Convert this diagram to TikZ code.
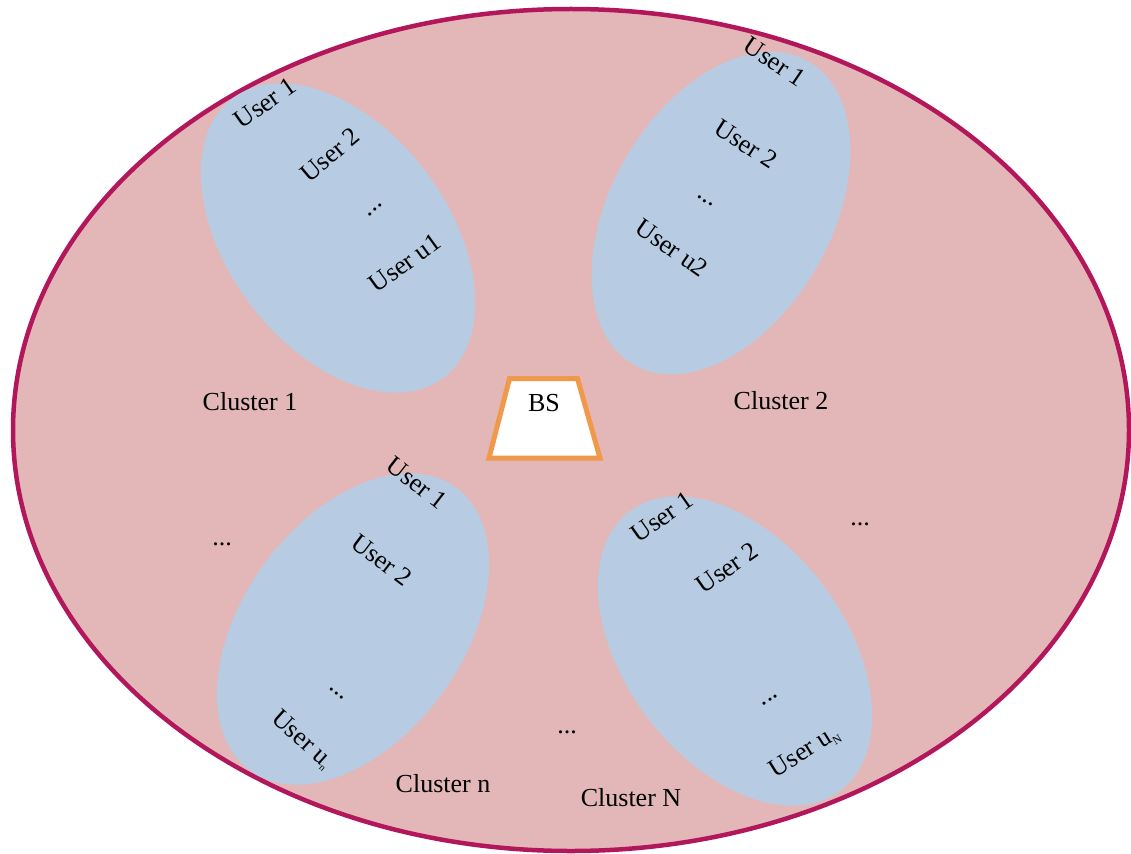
\documentclass[tikz,border=0pt]{standalone}
\usepackage{fontspec}
\setmainfont{Liberation Serif}
\usetikzlibrary{shapes.geometric}
\definecolor{cellpink}{HTML}{E3B7B7}
\definecolor{cellborder}{HTML}{B3175B}
\definecolor{clusterblue}{HTML}{B7CCE2}
\definecolor{bsorange}{HTML}{F0994A}
\tikzset{
  cell/.style={ellipse, draw=cellborder, fill=cellpink, line width=4.5pt, inner sep=0pt,
    minimum width=1116pt, minimum height=842pt},
  cluster/.style={ellipse, fill=clusterblue, inner sep=0pt, minimum width=350pt, minimum height=220pt},
  lbl/.style={font=\fontsize{26}{29}\selectfont, inner sep=1pt},
}
\begin{document}
\begin{tikzpicture}[x=1pt,y=-1pt]
\useasboundingbox (0,0) rectangle (1131,853);
\node[cell] (cell) at (571,430) {};
\node[cluster, rotate=-53] (c1) at (338,238) {};
\node[cluster, rotate=60] (c2) at (721,213) {};
\node[cluster, rotate=54] (cn) at (353,629) {};
\node[cluster, rotate=-53] (cN) at (735,651) {};
% BS
\coordinate (bstl) at (509.5,378.5);
\coordinate (bstr) at (577.5,378.5);
\coordinate (bsbr) at (600,458);
\coordinate (bsbl) at (489,458);
\draw[bsorange, line width=5pt, fill=white] (bstl) -- (bstr) -- (bsbr) -- (bsbl) -- cycle;
\node[lbl] (bs) at (544,403) {BS};
% cluster 1 texts
\node[lbl, rotate=35] (c1u1) at (265,103) {User 1};
\node[lbl, rotate=40] (c1u2) at (330,155) {User 2};
\node[lbl, rotate=40] (c1d) at (375,210) {...};
\node[lbl, rotate=36] (c1uk) at (405,263) {User u1};
% cluster 2 texts
\node[lbl, rotate=-34] (c2u1) at (775,62) {User 1};
\node[lbl, rotate=-33] (c2u2) at (746,144) {User 2};
\node[lbl, rotate=-33] (c2d) at (705,201) {...};
\node[lbl, rotate=-35] (c2uk) at (672,248) {User u2};
% cluster n texts
\node[lbl, rotate=-38] (cnu1) at (417,483) {User 1};
\node[lbl, rotate=-37] (cnu2) at (382,560) {User 2};
\node[lbl, rotate=-38] (cnd) at (337,694) {...};
\node[lbl, rotate=-42] (cnuk) at (302,740) {User u\textsubscript{\fontsize{10}{10}\selectfont n}};
% cluster N texts
\node[lbl, rotate=35] (cNu1) at (662,517) {User 1};
\node[lbl, rotate=35] (cNu2) at (727,568) {User 2};
\node[lbl, rotate=35] (cNd) at (770,700) {...};
\node[lbl, rotate=32] (cNuk) at (805,752) {User u\textsubscript{\fontsize{12}{12}\selectfont N}};
% cluster labels
\node[lbl] (l1) at (250,402) {Cluster 1};
\node[lbl] (l2) at (781,401) {Cluster 2};
\node[lbl] (ln) at (443,784) {Cluster n};
\node[lbl] (lN) at (631,798) {Cluster N};
% dots
\node[lbl] (d1) at (222,544) {...};
\node[lbl] (d2) at (860,524) {...};
\node[lbl] (d3) at (567,732) {...};
\end{tikzpicture}
\end{document}
